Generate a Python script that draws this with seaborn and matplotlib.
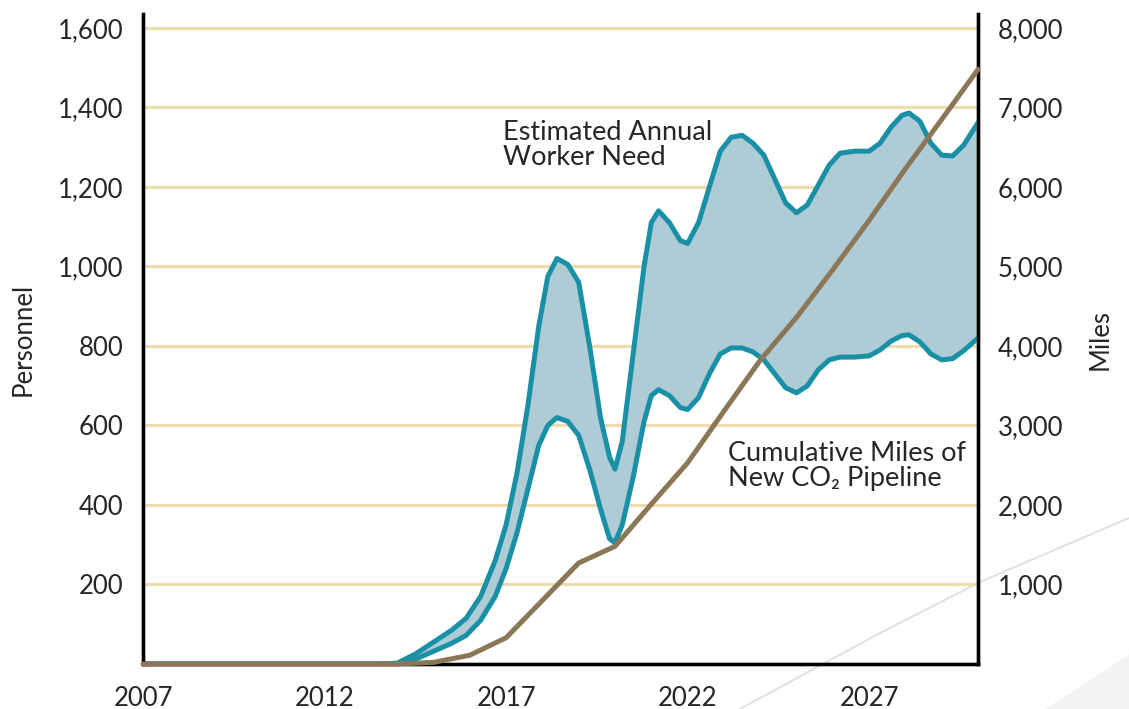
import matplotlib
matplotlib.use("Agg")
import matplotlib.pyplot as plt
import seaborn as sns
import pandas as pd
from matplotlib.lines import Line2D
from matplotlib.patches import Polygon

sns.set_theme(style="white")
plt.rcParams["font.family"] = ["Lato", "DejaVu Sans"]

# --- data ---
years = [2007, 2013.5, 2014.0, 2014.5, 2015.0, 2015.5, 2015.9, 2016.3, 2016.7, 2017.0,
         2017.3, 2017.6, 2017.9, 2018.15, 2018.4, 2018.7, 2019.0, 2019.3, 2019.6, 2019.85,
         2020.0, 2020.2, 2020.5, 2020.8, 2021.0, 2021.2, 2021.5, 2021.8, 2022.0, 2022.3,
         2022.6, 2022.9, 2023.2, 2023.5, 2023.8, 2024.1, 2024.4, 2024.7, 2025.0, 2025.3,
         2025.6, 2025.9, 2026.2, 2026.6, 2027.0, 2027.3, 2027.6, 2027.9, 2028.1, 2028.4,
         2028.7, 2029.0, 2029.3, 2029.6, 2030.0]
need_high = [0, 0, 2, 25, 55, 85, 115, 170, 260, 350,
             480, 650, 850, 975, 1020, 1005, 960, 800, 620, 520,
             490, 560, 780, 1000, 1110, 1140, 1110, 1065, 1058, 1110,
             1200, 1290, 1325, 1330, 1310, 1280, 1220, 1160, 1135, 1155,
             1205, 1255, 1285, 1290, 1290, 1310, 1350, 1380, 1386, 1365,
             1310, 1280, 1278, 1305, 1362]
need_low = [0, 0, 0, 12, 32, 52, 72, 110, 170, 240,
            330, 440, 550, 600, 620, 610, 575, 490, 390, 315,
            305, 350, 470, 610, 675, 690, 675, 645, 640, 670,
            730, 780, 795, 795, 785, 765, 730, 695, 682, 700,
            740, 765, 772, 772, 775, 790, 812, 826, 828, 810,
            780, 765, 768, 788, 820]

mile_years = list(range(2007, 2031))
miles = [0, 0, 0, 0, 0, 0, 0, 0, 20, 110, 330, 800, 1270, 1480,
         2010, 2530, 3180, 3820, 4360, 4960, 5580, 6230, 6850, 7480]

left_ticks = [200, 400, 600, 800, 1000, 1200, 1400, 1600]
right_ticks = [1000, 2000, 3000, 4000, 5000, 6000, 7000, 8000]
x_ticks = [2007, 2012, 2017, 2022, 2027]

need = pd.DataFrame({"year": years, "high": need_high, "low": need_low})
pipe = pd.DataFrame({"year": mile_years, "miles": miles})

CYAN = "#1a90a6"
FILL = "#aecbd6"
BROWN = "#8b7758"
GRID = "#ecdcae"

fig = plt.figure(figsize=(11.29, 7.09), dpi=100)

# faint decorative background (page artwork behind the chart)
fig.add_artist(Polygon([[0.926, 0.0], [1.0, 0.0], [1.0, 0.076]], closed=True,
                       transform=fig.transFigure, color="#f3f3f5", zorder=-5))
fig.add_artist(Line2D([0.6554, 0.7795, 0.868, 1.0], [0.0, 0.1072, 0.1791, 0.2694],
                      transform=fig.transFigure, color="#e2e2e2", lw=1.5, zorder=-4))

ax = fig.add_axes([0.1267, 0.0635, 0.7396, 0.9167])
ax.patch.set_alpha(0)

ax.fill_between(need["year"], need["low"], need["high"], color=FILL, lw=0, zorder=2)
sns.lineplot(data=need, x="year", y="high", ax=ax, color=CYAN, lw=3.6, zorder=3,
             solid_joinstyle="round", solid_capstyle="round")
sns.lineplot(data=need, x="year", y="low", ax=ax, color=CYAN, lw=3.6, zorder=3,
             solid_joinstyle="round", solid_capstyle="round")

ax.set_xlim(2007, 2030)
ax.set_ylim(0, 1635)
ax.set_yticks(left_ticks)
ax.set_yticklabels([f"{v:,}" for v in left_ticks])
ax.set_xticks(x_ticks)
ax.set_xticklabels([str(v) for v in x_ticks])
for v in left_ticks:
    ax.axhline(v, color=GRID, lw=2.2, zorder=1)
ax.set_xlabel("")
ax.set_ylabel("Personnel", fontsize=18.5, labelpad=16)
ax.tick_params(axis="both", length=0, labelsize=18.5)
ax.tick_params(axis="y", pad=14)
ax.tick_params(axis="x", pad=16)

ax2 = ax.twinx()
sns.lineplot(data=pipe, x="year", y="miles", ax=ax2, color=BROWN, lw=3.6, zorder=4,
             clip_on=False, solid_joinstyle="round")
ax2.set_ylim(0, 8175)
ax2.set_yticks(right_ticks)
ax2.set_yticklabels([f"{v:,}" for v in right_ticks])
ax2.set_ylabel("Miles", fontsize=18.5, labelpad=18)
ax2.tick_params(axis="y", length=0, labelsize=18.5, pad=14)

for a in (ax, ax2):
    a.spines["top"].set_visible(False)
    for s in ("left", "right", "bottom"):
        a.spines[s].set_color("black")
        a.spines[s].set_linewidth(2.4)

ax.text(2016.92, 1306, "Estimated Annual\nWorker Need", fontsize=19.5, va="center",
        ha="left", linespacing=1.0, zorder=6)
ax.text(2023.1, 498, "Cumulative Miles of\nNew CO\u2082 Pipeline", fontsize=19.5,
        va="center", ha="left", linespacing=1.0, zorder=6)

fig.savefig("out.png", dpi=100)
